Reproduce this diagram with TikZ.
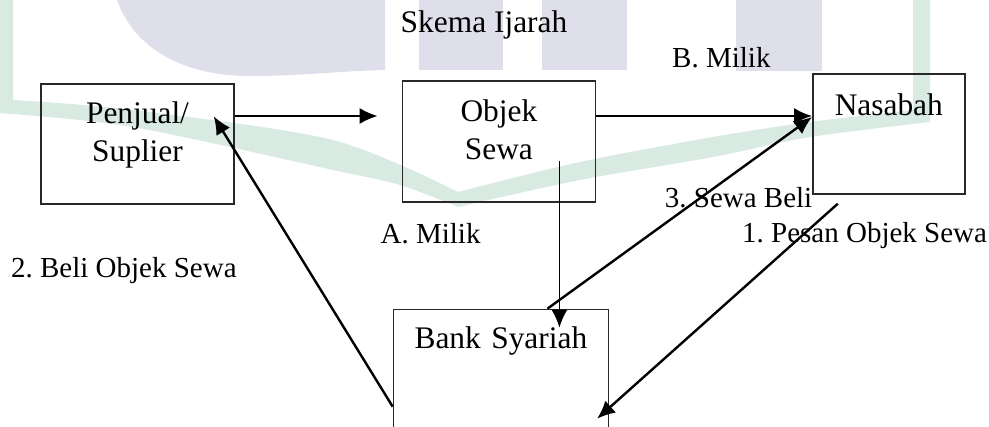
\documentclass[tikz,border=0pt]{standalone}
\usepackage{fontspec}
\setmainfont{Liberation Serif}
\usepackage{xcolor}
\usetikzlibrary{arrows.meta,positioning,calc}

\definecolor{ungu}{RGB}{223,223,235}
\definecolor{hijau}{RGB}{216,234,225}
\definecolor{garis}{RGB}{40,40,40}

\begin{document}
\frenchspacing
\begin{tikzpicture}[
    x=0.5pt, y=-0.5pt, % pixel-like units, y going down
    >={Latex[length=9pt,width=8pt]}, % filled arrow heads
    font=\fontsize{15.7pt}{19pt}\selectfont, % box text
    kotak/.style={draw=garis, line width=0.7pt, minimum width=96.5pt, minimum height=60pt, inner sep=0pt},
    isi/.style={anchor=base, align=center, text width=100pt, inner sep=0pt},
    panah/.style={->, line width=1.2pt},
    ket/.style={inner sep=0pt, font=\fontsize{14.5pt}{17pt}\selectfont} % arrow labels
]
\useasboundingbox (0,0) rectangle (989,427);
\clip (0,0) rectangle (989,427);

% Watermark in the background
\fill[ungu] (117,0) .. controls (135,50) and (185,76) .. (250,76) .. controls (300,76) and (340,71) .. (385,70) -- (385,0) -- cycle;
\fill[ungu] (419,0) rectangle (503,70);
\fill[ungu] (542,0) rectangle (627,70);
\fill[ungu] (736,0) rectangle (822,71);
\fill[hijau] (0,0) -- (13,0)
  -- plot[smooth] coordinates {(13,100) (133,110) (333,140) (458,192)}
  -- plot[smooth] coordinates {(458,192) (580,162) (713,137) (810,122) (913,110)}
  -- (913,0) -- (930,0)
  -- plot[smooth] coordinates {(930,122) (810,137) (713,157) (580,180) (458,207)}
  -- plot[smooth] coordinates {(458,207) (400,185) (333,170) (133,127) (0,113)}
  -- cycle;

% Boxes
\node[kotak] (P) at (137.5,144) {};
\node[kotak, minimum height=60.5pt] (O) [right=83.5pt of P, yshift=1.25pt] {};
\node[kotak, minimum width=76pt] (N) [right=108pt of O, yshift=3.75pt] {};
\node[kotak, minimum width=107.5pt, minimum height=65pt] (B) [below=53pt of O, xshift=1pt] {};

% Box texts
\node[isi] (Pt) at ([yshift=-20pt]P.north) {Penjual/\\Suplier};
\node[isi] (Ot) at ([yshift=-20.5pt]O.north) {Objek\\Sewa};
\node[isi] (Nt) at ([yshift=-21pt]N.north) {Nasabah};
\node[isi] (Bt) at ([yshift=-20pt]B.north) {Bank Syariah};
\node[anchor=base, inner sep=0pt] (judul) at (484,33) {Skema Ijarah};

% End points
\coordinate (p1) at ([yshift=14pt]P.east);
\coordinate (p2) at ([shift={(-10.5pt,-16.5pt)}]P.north east);
\coordinate (o1) at ([yshift=12.75pt]O.east);
\coordinate (o2) at ([shift={(30.25pt,-9.75pt)}]O.center);
\coordinate (n1) at ([shift={(-25.5pt,-4.5pt)}]N.south);
\coordinate (b1) at ([yshift=-9.5pt]B.north);
\coordinate (b2) at ([shift={(-6pt,-55pt)}]B.north east);
\coordinate (b3) at ([yshift=-49pt]B.north west);

% Arrows with labels
\path (p1) edge[panah, shorten >=12pt] (p1 -| O.west);
\path (o1) edge[panah] node[ket, pos=.58, anchor=base, yshift=24pt] (lB) {B. Milik} (o1 -| N.west);
\path (o2) edge[panah, line width=0.9pt] node[ket, pos=.494, anchor=base east, xshift=-39pt] (lA) {A. Milik} (o2 |- b1);
\path ([xshift=23.25pt]B.north) edge[panah] node[ket, pos=.53, anchor=base west, xshift=-12pt] (l3) {3. Sewa Beli} ([yshift=8.5pt]N.west);
\path (n1) edge[panah] node[ket, pos=.18, anchor=base west, xshift=-26.75pt] (l1) {1. Pesan Objek Sewa} (b2);
\path (b3) edge[panah] node[ket, pos=.446, anchor=base east, xshift=-37.5pt] (l2) {2. Beli Objek Sewa} (p2);

\end{tikzpicture}
\end{document}
